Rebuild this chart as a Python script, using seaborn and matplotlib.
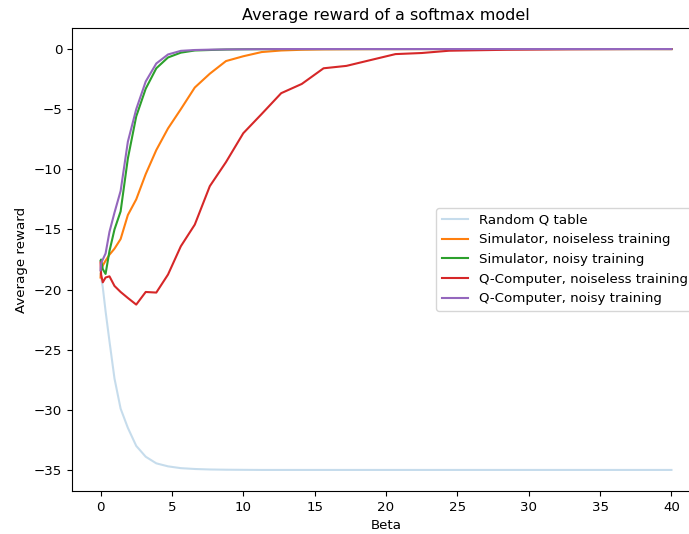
import matplotlib
matplotlib.use("Agg")
import matplotlib.pyplot as plt
import seaborn as sns
import pandas as pd

# Beta values (x axis)
beta = [0.0, 0.039, 0.156, 0.352, 0.625, 0.977, 1.406, 1.914, 2.5, 3.164, 3.906,
        4.727, 5.625, 6.602, 7.656, 8.789, 10.0, 11.289, 12.656, 14.102, 15.625,
        17.227, 18.906, 20.664, 22.5, 24.414, 26.406, 28.477, 30.625, 32.852,
        35.156, 37.539, 40.0]

random_q = [-18.7, -19.0, -19.8, -21.8, -24.3, -27.4, -29.9, -31.5, -33.0, -33.9,
            -34.45, -34.7, -34.85, -34.92, -34.96, -34.98, -34.99, -35.0, -35.0,
            -35.0, -35.0, -35.0, -35.0, -35.0, -35.0, -35.0, -35.0, -35.0, -35.0,
            -35.0, -35.0, -35.0, -35.0]

sim_noiseless = [-19.0, -18.3, -18.0, -17.6, -17.1, -16.6, -15.8, -13.8, -12.5,
                 -10.4, -8.4, -6.6, -5.0, -3.2, -2.05, -1.0, -0.6, -0.25, -0.12,
                 -0.06, -0.03, -0.02, -0.01, -0.01, 0.0, 0.0, 0.0, 0.0, 0.0, 0.0,
                 0.0, 0.0, 0.0]

sim_noisy = [-17.6, -17.5, -18.3, -18.7, -16.8, -15.0, -13.5, -9.1, -5.6, -3.3,
             -1.6, -0.7, -0.3, -0.12, -0.08, -0.04, -0.02, -0.01, 0.0, 0.0, 0.0,
             0.0, 0.0, 0.0, 0.0, 0.0, 0.0, 0.0, 0.0, 0.0, 0.0, 0.0, 0.0]

qc_noiseless = [-17.75, -18.75, -19.4, -19.0, -18.9, -19.7, -20.2, -20.7, -21.25,
                -20.2, -20.25, -18.75, -16.4, -14.6, -11.4, -9.4, -7.0, -5.4,
                -3.67, -2.9, -1.6, -1.4, -0.92, -0.42, -0.33, -0.14, -0.1, -0.06,
                -0.04, -0.02, -0.01, 0.0, 0.0]

qc_noisy = [-18.4, -17.8, -17.5, -17.0, -15.2, -13.6, -11.8, -7.7, -5.0, -2.7,
            -1.2, -0.45, -0.15, -0.08, -0.05, -0.03, -0.02, -0.01, 0.0, 0.0, 0.0,
            0.0, 0.0, 0.0, 0.0, 0.0, 0.0, 0.0, 0.0, 0.0, 0.0, 0.0, 0.0]

labels = ["Random Q table", "Simulator, noiseless training",
          "Simulator, noisy training", "Q-Computer, noiseless training",
          "Q-Computer, noisy training"]
series = [random_q, sim_noiseless, sim_noisy, qc_noiseless, qc_noisy]
colors = ["tab:blue", "tab:orange", "tab:green", "tab:red", "tab:purple"]
alphas = [0.25, 1, 1, 1, 1]

plt.rcParams["font.size"] = 9.6

fig = plt.figure(figsize=(6.89, 5.34), dpi=100)
ax = fig.add_axes([72 / 689, 43 / 534, 628 / 689, 463 / 534])

for lab, vals, col, a in zip(labels, series, colors, alphas):
    df = pd.DataFrame({"Beta": beta, "reward": vals})
    sns.lineplot(data=df, x="Beta", y="reward", ax=ax, color=col, alpha=a,
                 label=lab, linewidth=1.5)

ax.set_title("Average reward of a softmax model")
ax.set_xlabel("Beta")
ax.set_ylabel("Average reward")
ax.legend(loc="center right")

fig.savefig("out.png", dpi=100)
